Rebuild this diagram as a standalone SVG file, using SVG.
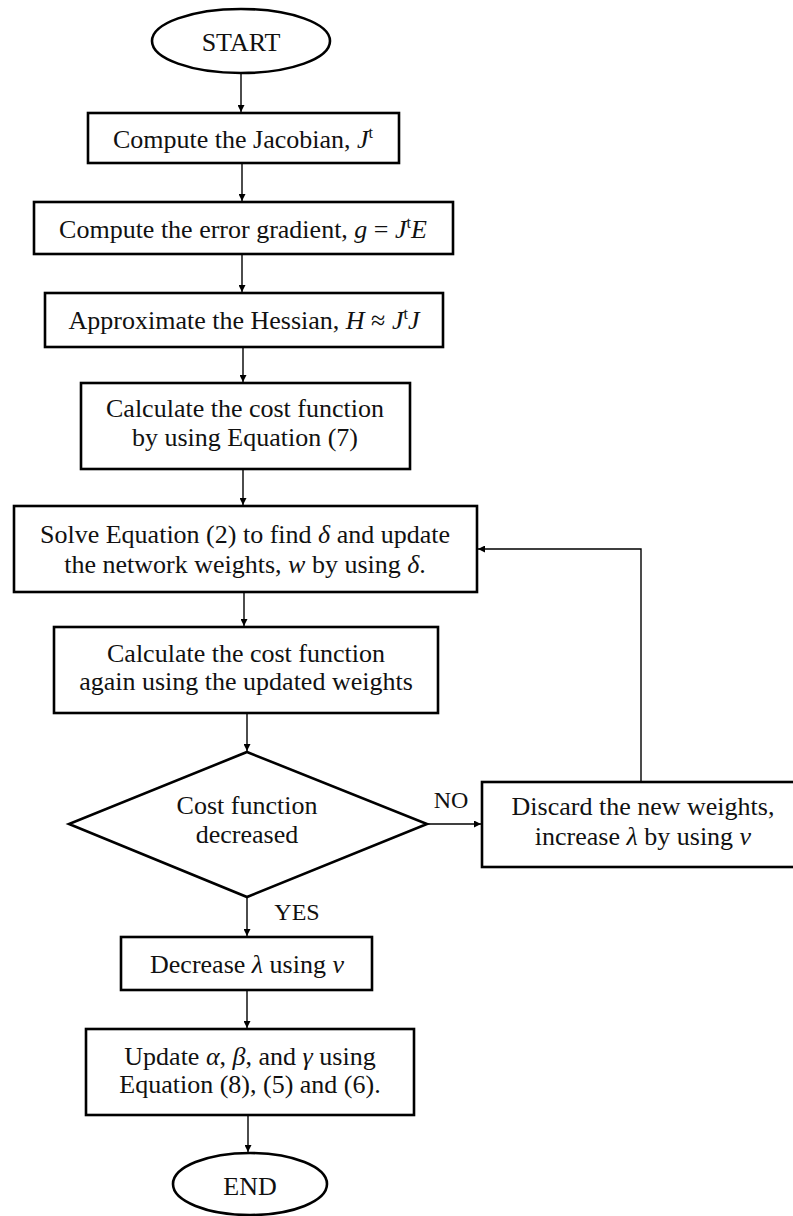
<svg xmlns="http://www.w3.org/2000/svg" width="793" height="1216" viewBox="0 0 793 1216">
<defs>
<marker id="ah" viewBox="0 0 10 10" refX="10" refY="5" markerWidth="7" markerHeight="7" markerUnits="userSpaceOnUse" orient="auto">
<path d="M0,0 L10,5 L0,10 z" fill="#000"/>
</marker>
<style>
.b{fill:#fff;stroke:#000;stroke-width:2.6}
.t{font-family:"Liberation Serif","Times New Roman",serif;font-size:26px;fill:#111;text-anchor:middle}
.l{font-size:24px}
.i{font-style:italic}
.c{fill:none;stroke:#000;stroke-width:1.4;marker-end:url(#ah)}
</style>
</defs>
<rect width="793" height="1216" fill="#fff"/>
<g id="connectors">
<path class="c" d="M241,73 V112"/>
<path class="c" d="M242,163 V201"/>
<path class="c" d="M242,254 V292"/>
<path class="c" d="M243,347 V382"/>
<path class="c" d="M243,469 V505"/>
<path class="c" d="M244,592 V626"/>
<path class="c" d="M247,713 V751"/>
<path class="c" d="M427,824 H481"/>
<path class="c" d="M641,782 V549 H478"/>
<path class="c" d="M247,897 V936"/>
<path class="c" d="M247,990 V1028"/>
<path class="c" d="M248,1115 V1152"/>
</g>
<g id="start">
<ellipse class="b" cx="241" cy="41" rx="89" ry="32" stroke-width="2"/>
<text class="t" x="241" y="51">START</text>
</g>
<g id="n1">
<rect class="b" x="88" y="113" width="311" height="50"/>
<text class="t" x="243" y="148">Compute the Jacobian, <tspan class="i">J</tspan><tspan font-size="16" dy="-10">t</tspan></text>
</g>
<g id="n2">
<rect class="b" x="34" y="202" width="419" height="52"/>
<text class="t" x="243" y="238">Compute the error gradient, <tspan class="i">g</tspan> = <tspan class="i">J</tspan><tspan font-size="16" dy="-10">t</tspan><tspan class="i" dy="10">E</tspan></text>
</g>
<g id="n3">
<rect class="b" x="45" y="293" width="398" height="54"/>
<text class="t" x="244" y="329">Approximate the Hessian, <tspan class="i">H</tspan> ≈ <tspan class="i">J</tspan><tspan font-size="16" dy="-10">t</tspan><tspan class="i" dy="10">J</tspan></text>
</g>
<g id="n4">
<rect class="b" x="81" y="383" width="329" height="86"/>
<text class="t" x="245" y="417">Calculate the cost function</text>
<text class="t" x="245" y="446">by using Equation (7)</text>
</g>
<g id="n5">
<rect class="b" x="14" y="506" width="463" height="86"/>
<text class="t" x="245" y="543">Solve Equation (2) to find <tspan class="i">δ</tspan> and update</text>
<text class="t" x="245" y="573">the network weights, <tspan class="i">w</tspan> by using <tspan class="i">δ</tspan>.</text>
</g>
<g id="n6">
<rect class="b" x="54" y="627" width="384" height="86"/>
<text class="t" x="246" y="662">Calculate the cost function</text>
<text class="t" x="246" y="690">again using the updated weights</text>
</g>
<g id="decision">
<polygon class="b" points="247,752 427,824 247,897 69,824" stroke-width="2.2"/>
<text class="t" x="247" y="814">Cost function</text>
<text class="t" x="247" y="843">decreased</text>
</g>
<g id="n7">
<rect class="b" x="482" y="782" width="320" height="85"/>
<text class="t" x="643" y="815">Discard the new weights,</text>
<text class="t" x="643" y="845">increase <tspan class="i">λ</tspan> by using <tspan class="i">ν</tspan></text>
</g>
<g id="n8">
<rect class="b" x="121" y="937" width="251" height="53"/>
<text class="t" x="247" y="973">Decrease <tspan class="i">λ</tspan> using <tspan class="i">ν</tspan></text>
</g>
<g id="n9">
<rect class="b" x="86" y="1029" width="328" height="86"/>
<text class="t" x="250" y="1065">Update <tspan class="i">α</tspan>, <tspan class="i">β</tspan>, and <tspan class="i">γ</tspan> using</text>
<text class="t" x="250" y="1093">Equation (8), (5) and (6).</text>
</g>
<g id="end">
<ellipse class="b" cx="250" cy="1184" rx="77" ry="31" stroke-width="2"/>
<text class="t" x="250" y="1195">END</text>
</g>
<g id="labels">
<text class="t l" x="451" y="808">NO</text>
<text class="t l" x="297" y="920">YES</text>
</g>
</svg>
